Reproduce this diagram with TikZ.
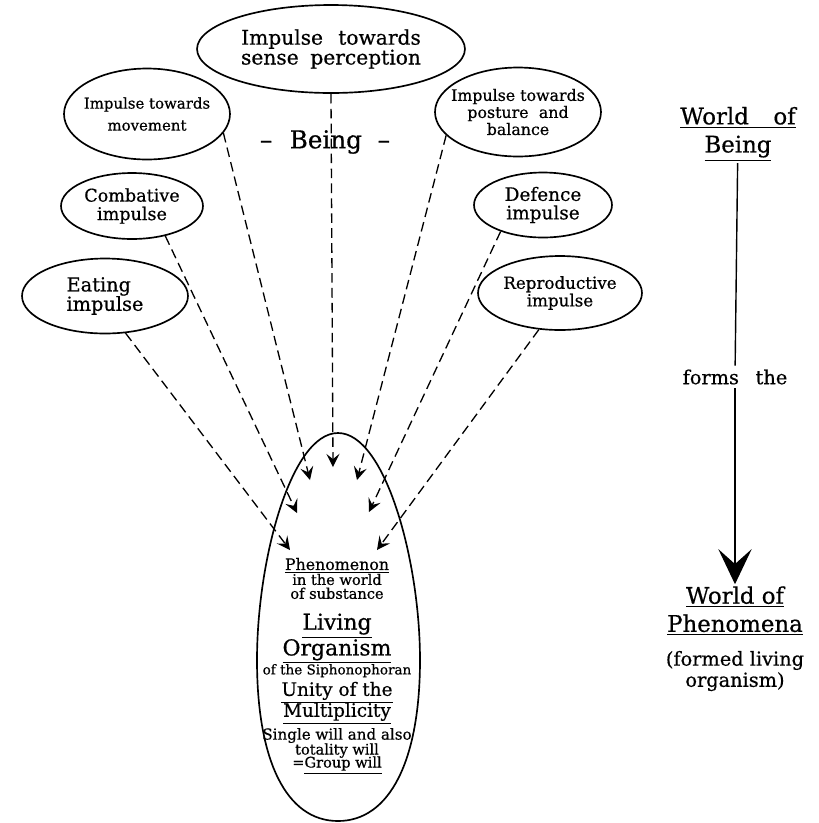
\documentclass[tikz,border=0pt]{standalone}
\usepackage{fontspec}
\setmainfont{DejaVu Serif}[FakeBold=0.6]
\usetikzlibrary{shapes.geometric, arrows.meta, positioning}
\tikzset{
  impulse/.style={
    ellipse, draw, line width=0.95pt, inner xsep=-6pt, inner ysep=0pt,
    align=center
  },
  flow/.style={-{Stealth[length=7.5pt, width=7.5pt, inset=3pt]},
    line width=0.75pt, dash pattern=on 5.5pt off 3pt},
  egg/.style={line width=0.95pt},
  world/.style={align=center, inner sep=1pt,
    font=\fontsize{13}{16}\selectfont}
}

\begin{document}
\begin{tikzpicture}[x=0.02cm, y=-0.02cm]
    \useasboundingbox (0,0) rectangle (819,823);
    % Impulsos
    \node[impulse, minimum width=5.36cm, minimum height=1.76cm,
          font=\fontsize{11.5}{11.3}\selectfont] (sen) at (331,49)
      {Impulse\hspace{5pt} towards\\sense\hspace{3pt} perception};
    \node[impulse, minimum width=3.32cm, minimum height=1.82cm,
          font=\fontsize{8.5}{11.5}\selectfont] (mov) at (147,114)
      {Impulse towards\\[1pt]movement};
    \node[impulse, minimum width=2.84cm, minimum height=1.32cm,
          font=\fontsize{10}{10.5}\selectfont] (com) at (132,206)
      {Combative\\impulse};
    \node[impulse, minimum width=3.32cm, minimum height=1.5cm,
          align=left, font=\fontsize{11}{11}\selectfont] (eat) at (105,296)
      {Eating\\impulse};
    \node[impulse, minimum width=3.32cm, minimum height=1.78cm,
          font=\fontsize{9}{8.5}\selectfont] (pos) at (518,112)
      {Impulse towards\\posture\hspace{3pt} and\\balance};
    \node[impulse, minimum width=2.76cm, minimum height=1.3cm,
          font=\fontsize{10.5}{10.5}\selectfont] (def) at (543,205)
      {Defence\\impulse};
    \node[impulse, minimum width=3.28cm, minimum height=1.48cm,
          font=\fontsize{9.5}{10}\selectfont] (rep) at (560,293)
      {Reproductive\\impulse};

    \node[font=\fontsize{14}{14}\selectfont] (being) at (325,142)
      {--\hspace{10pt}Being\hspace{9pt}--};

    % Huevo
    \draw[egg] (338,433) .. controls (385,433) and (420,560) .. (420,660)
      .. controls (420,760) and (390,821) .. (338,821)
      .. controls (286,821) and (257,760) .. (257,660)
      .. controls (257,560) and (291,433) .. (338,433);
    \node[align=center, inner sep=0pt,
          font=\fontsize{8.3}{14}\selectfont] (org) at (337,666)
      {{\fontsize{9}{14}\selectfont\underline{Phenomenon}}\\[-5.5pt]
       in the world\\[-6.1pt]
       of substance\\[3.6pt]
       {\fontsize{12.5}{14}\selectfont\underline{Living}}\\[-0.4pt]
       {\fontsize{12.5}{14}\selectfont\underline{Organism}}\\[-3.2pt]
       {\fontsize{7.7}{14}\selectfont of the Siphonophoran}\\[-1.8pt]
       {\fontsize{10.5}{14}\selectfont\underline{Unity of the}}\\[-2.1pt]
       {\fontsize{10.5}{14}\selectfont\underline{Multiplicity}}\\[-1pt]
       {\fontsize{8.6}{14}\selectfont Single will and also}\\[-5.5pt]
       totality will\\[-6.6pt]
       =\underline{Group will}};

    % Puntas dentro del huevo
    \coordinate (tl3) at (290,550);
    \coordinate (tl2) at (297,513);
    \coordinate (tl1) at (310,480);
    \coordinate (tc)  at (333,467);
    \coordinate (tr1) at (357,480);
    \coordinate (tr2) at (369,512);
    \coordinate (tr3) at (377,550);

    % Flechas discontinuas
    \foreach \a/\b in {eat.-61/tl3, com.-42/tl2, mov.-14/tl1, sen.south/tc,
                       pos.198/tr1, def.212/tr2, rep.240/tr3}{%
      \draw[flow] (\a) -- (\b);}

    % Columna derecha
    \node[world] (wob) at (738,134)
      {\underline{World\hspace{14pt}of}\\\underline{Being}};
    \node[inner sep=2pt, font=\fontsize{11}{13}\selectfont] (forms) at (735,377)
      {forms\hspace{6pt} the};
    \node[world] (wop) at (735,611)
      {\underline{World of}\\\underline{Phenomena}};
    \node[below=4pt of wop, align=center,
          font=\fontsize{11}{12}\selectfont] (wopn)
      {(formed living\\organism)};
    \draw[line width=0.8pt] (wob) -- (forms);
    \draw[line width=0.8pt, -{Stealth[length=20pt, width=19pt, inset=8.5pt]}]
      (forms) -- (wop);
\end{tikzpicture}
\end{document}
